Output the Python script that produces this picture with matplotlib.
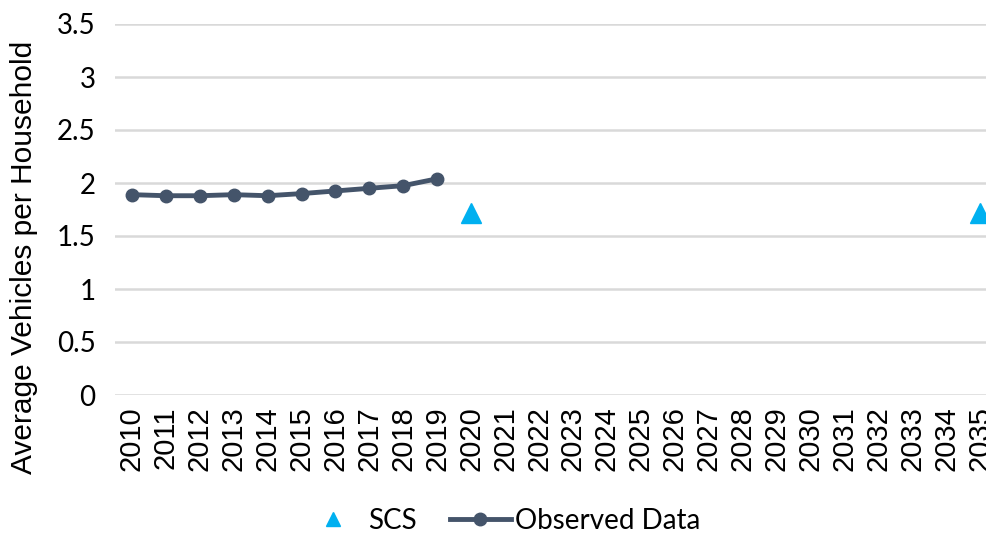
import matplotlib
matplotlib.use("Agg")
import matplotlib.pyplot as plt
from matplotlib.lines import Line2D

# Donnees
annees = list(range(2010, 2036))
obs_annees = [2010, 2011, 2012, 2013, 2014, 2015, 2016, 2017, 2018, 2019]
obs_valeurs = [1.89, 1.88, 1.88, 1.89, 1.88, 1.90, 1.925, 1.95, 1.975, 2.04]
scs_annees = [2020, 2035]
scs_valeurs = [1.72, 1.72]
y_ticks = [0, 0.5, 1, 1.5, 2, 2.5, 3, 3.5]
y_labels = ["0", "0.5", "1", "1.5", "2", "2.5", "3", "3.5"]

plt.rcParams['font.family'] = ['Lato', 'DejaVu Sans']

fig = plt.figure(figsize=(9.87, 5.37), dpi=100)
ax = fig.add_axes([115/987, 142/537, (997-115)/987, (395-24)/537])

ax.plot(scs_annees, scs_valeurs, linestyle='none', marker='^', color='#00b0f0',
        markersize=15, label='SCS', zorder=3, clip_on=False)
ax.plot(obs_annees, obs_valeurs, color='#44546a', linewidth=3.5, marker='o',
        markersize=9, label='Observed Data', zorder=3)

ax.set_xlim(2009.5, 2035.5)
ax.set_ylim(0, 3.5)
ax.set_yticks(y_ticks)
ax.set_yticklabels(y_labels, fontsize=20)
ax.set_xticks(annees)
ax.set_xticklabels([str(a) for a in annees], rotation=90, fontsize=21,
                   family='Liberation Sans')
ax.tick_params(axis='both', length=0)
ax.tick_params(axis='y', pad=14)
ax.tick_params(axis='x', pad=8)
ax.grid(axis='y', color='#d9d9d9', linewidth=1.8)
ax.set_axisbelow(True)
for s in ax.spines.values():
    s.set_visible(False)

# titre de l'axe y, place a la main
fig.text(24/987, 1 - 257/537, 'Average Vehicles per Household', rotation=90,
         ha='center', va='center', fontsize=21.5, family='Liberation Sans')

handles = [Line2D([], [], linestyle='none', marker='^', color='#00b0f0', markersize=10),
           Line2D([], [], color='#44546a', linewidth=3.5, marker='o', markersize=9)]
fig.legend(handles, ['SCS', 'Observed Data'], loc='center', bbox_to_anchor=(0.508, 0.03),
           ncol=2, frameon=False, fontsize=20, handlelength=2.2, handletextpad=0.15,
           columnspacing=1.2)

fig.savefig('out.png', dpi=100)
